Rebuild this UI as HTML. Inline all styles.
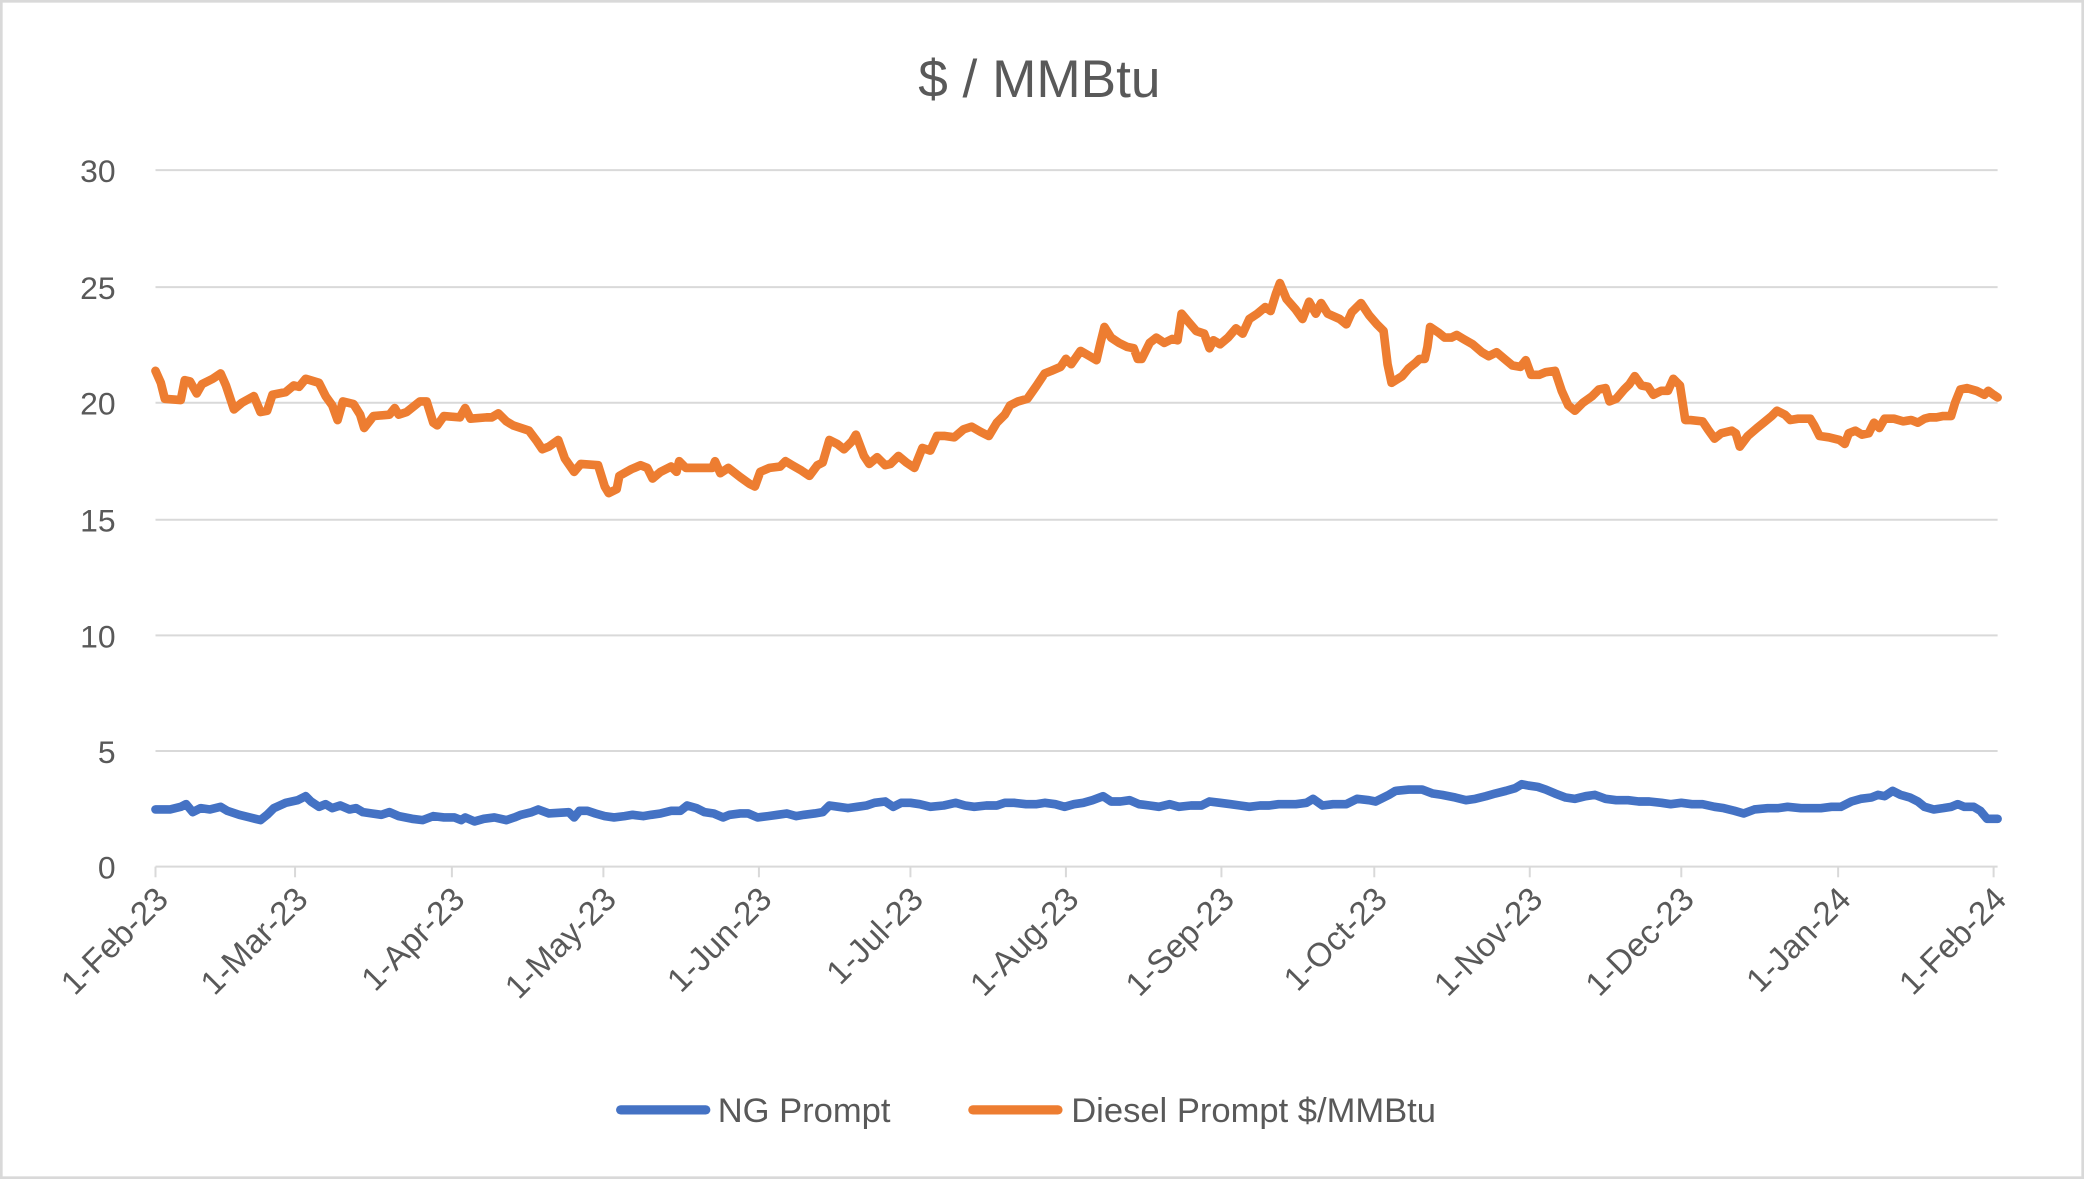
<!DOCTYPE html>
<html><head><meta charset="utf-8"><style>
html,body{margin:0;padding:0;background:#fff}
svg{display:block}
text{font-family:"Liberation Sans",sans-serif;fill:#595959}
</style></head><body>
<svg width="2084" height="1179" viewBox="0 0 1568 887" preserveAspectRatio="none" xmlns="http://www.w3.org/2000/svg">
<rect x="1" y="1" width="1566" height="885" fill="#fff" stroke="#d9d9d9" stroke-width="2"/>
<text x="782" y="73" font-size="40" text-anchor="middle">$ / MMBtu</text>
<g stroke="#d9d9d9" stroke-width="1.5">
<line x1="117" y1="128" x2="1503" y2="128"/>
<line x1="117" y1="216" x2="1503" y2="216"/>
<line x1="117" y1="303" x2="1503" y2="303"/>
<line x1="117" y1="391" x2="1503" y2="391"/>
<line x1="117" y1="478" x2="1503" y2="478"/>
<line x1="117" y1="565" x2="1503" y2="565"/>
<line x1="117" y1="652" x2="1503" y2="652"/>
<line x1="117" y1="652" x2="117" y2="660"/><line x1="222" y1="652" x2="222" y2="660"/><line x1="340" y1="652" x2="340" y2="660"/><line x1="454" y1="652" x2="454" y2="660"/><line x1="571" y1="652" x2="571" y2="660"/><line x1="685" y1="652" x2="685" y2="660"/><line x1="802" y1="652" x2="802" y2="660"/><line x1="919" y1="652" x2="919" y2="660"/><line x1="1034" y1="652" x2="1034" y2="660"/><line x1="1151" y1="652" x2="1151" y2="660"/><line x1="1265" y1="652" x2="1265" y2="660"/><line x1="1383" y1="652" x2="1383" y2="660"/><line x1="1500" y1="652" x2="1500" y2="660"/>
</g>
<g font-size="24" text-anchor="end">
<text x="87" y="137">30</text><text x="87" y="225">25</text><text x="87" y="312">20</text><text x="87" y="400">15</text><text x="87" y="487">10</text><text x="87" y="574">5</text><text x="87" y="661">0</text>
</g>
<g font-size="25" text-anchor="end">
<text transform="translate(128,678) rotate(-45)">1-Feb-23</text>
<text transform="translate(233,678) rotate(-45)">1-Mar-23</text>
<text transform="translate(351,678) rotate(-45)">1-Apr-23</text>
<text transform="translate(465,678) rotate(-45)">1-May-23</text>
<text transform="translate(582,678) rotate(-45)">1-Jun-23</text>
<text transform="translate(696,678) rotate(-45)">1-Jul-23</text>
<text transform="translate(813,678) rotate(-45)">1-Aug-23</text>
<text transform="translate(930,678) rotate(-45)">1-Sep-23</text>
<text transform="translate(1045,678) rotate(-45)">1-Oct-23</text>
<text transform="translate(1162,678) rotate(-45)">1-Nov-23</text>
<text transform="translate(1276,678) rotate(-45)">1-Dec-23</text>
<text transform="translate(1394,678) rotate(-45)">1-Jan-24</text>
<text transform="translate(1511,678) rotate(-45)">1-Feb-24</text>
</g>
<polyline fill="none" stroke="#ed7d31" stroke-width="6.5" stroke-linejoin="round" stroke-linecap="round" points="117,279 121,288 124,300 136,301 139,286 143,287 148,296 152,289 160,285 166,281 170,290 176,308 182,303 191,298 196,310 201,309 205,297 215,295 221,290 225,291 230,285 240,288 245,298 250,305 254,316 258,302 266,304 271,312 274,322 281,313 293,312 297,307 300,312 306,310 316,302 321,302 326,318 329,320 334,313 346,314 350,307 354,315 366,314 370,314 375,311 381,317 386,320 398,324 404,332 408,338 413,336 420,331 425,345 432,355 437,349 450,350 455,366 458,371 464,368 466,358 475,353 482,350 487,352 491,360 497,355 505,351 509,355 511,347 516,352 528,352 536,352 538,347 542,356 548,352 557,359 564,364 568,366 572,355 579,352 587,351 591,347 596,350 603,354 609,358 615,350 619,348 624,331 630,334 635,338 641,332 644,327 650,343 654,349 660,344 666,350 670,349 676,343 682,348 688,352 694,337 700,339 705,328 711,328 718,329 725,323 731,321 738,325 744,328 750,318 756,312 760,305 766,302 773,300 780,290 786,281 791,279 798,276 802,270 806,274 813,264 820,268 825,271 828,258 831,246 836,254 842,258 848,261 853,262 856,270 859,270 865,258 870,254 876,258 882,255 886,256 889,236 894,242 900,249 906,251 910,262 913,256 918,259 924,254 930,247 935,251 940,240 946,236 952,231 956,234 960,221 963,213 968,225 975,233 980,240 985,227 990,236 994,228 999,236 1008,240 1013,244 1017,235 1024,228 1030,237 1036,244 1041,249 1044,274 1047,288 1055,283 1060,277 1065,273 1068,270 1072,270 1074,261 1076,246 1082,250 1087,254 1092,254 1096,252 1101,255 1108,259 1115,265 1120,268 1126,265 1132,270 1138,275 1144,276 1148,271 1152,282 1158,282 1163,280 1170,279 1175,294 1180,305 1185,309 1191,303 1198,298 1203,293 1208,292 1211,302 1216,300 1222,293 1226,289 1230,283 1235,290 1240,291 1244,297 1250,294 1255,294 1259,285 1264,290 1268,316 1272,316 1281,317 1285,323 1290,330 1295,326 1303,324 1306,326 1309,336 1315,328 1322,322 1327,318 1333,313 1337,309 1343,312 1347,316 1353,315 1362,315 1365,320 1369,328 1376,329 1384,331 1388,334 1391,326 1396,324 1401,327 1406,326 1410,318 1414,322 1418,315 1425,315 1432,317 1438,316 1443,318 1448,315 1452,314 1457,314 1462,313 1468,313 1471,303 1475,293 1480,292 1487,294 1493,297 1496,294 1500,297 1503,299"/>
<polyline fill="none" stroke="#4472c4" stroke-width="6.5" stroke-linejoin="round" stroke-linecap="round" points="117,609 128,609 136,607 140,605 145,611 151,608 158,609 166,607 171,610 180,613 188,615 196,617 201,613 206,608 215,604 224,602 230,599 234,603 240,607 245,605 250,608 256,606 263,609 268,608 273,611 280,612 287,613 293,611 300,614 310,616 318,617 326,614 334,615 342,615 347,617 350,615 357,618 364,616 372,615 381,617 387,615 392,613 400,611 405,609 413,612 428,611 432,615 436,610 442,610 448,612 455,614 462,615 470,614 476,613 484,614 490,613 497,612 505,610 512,610 517,606 524,608 530,611 537,612 544,615 549,613 557,612 563,612 570,615 578,614 585,613 592,612 599,614 605,613 613,612 619,611 624,606 631,607 638,608 645,607 652,606 658,604 666,603 672,607 678,604 685,604 692,605 700,607 710,606 719,604 726,606 733,607 742,606 750,606 756,604 763,604 772,605 780,605 786,604 794,605 801,607 808,605 815,604 822,602 830,599 836,603 843,603 850,602 857,605 865,606 872,607 880,605 887,607 896,606 904,606 910,603 918,604 926,605 933,606 940,607 948,606 955,606 962,605 968,605 975,605 983,604 988,601 995,606 1003,605 1013,605 1021,601 1030,602 1035,603 1045,598 1050,595 1060,594 1070,594 1078,597 1085,598 1095,600 1103,602 1110,601 1118,599 1125,597 1133,595 1140,593 1145,590 1150,591 1157,592 1163,594 1170,597 1178,600 1185,601 1193,599 1200,598 1208,601 1216,602 1225,602 1233,603 1241,603 1250,604 1257,605 1265,604 1273,605 1281,605 1290,607 1297,608 1305,610 1312,612 1320,609 1330,608 1338,608 1345,607 1355,608 1362,608 1370,608 1378,607 1385,607 1393,603 1400,601 1408,600 1413,598 1418,599 1424,595 1430,598 1437,600 1443,603 1448,607 1455,609 1462,608 1468,607 1473,605 1478,607 1485,607 1490,610 1495,616 1503,616"/>
<line x1="467" y1="835" x2="531" y2="835" stroke="#4472c4" stroke-width="7" stroke-linecap="round"/>
<text x="540" y="844" font-size="26">NG Prompt</text>
<line x1="732" y1="835" x2="796" y2="835" stroke="#ed7d31" stroke-width="7" stroke-linecap="round"/>
<text x="806" y="844" font-size="26">Diesel Prompt $/MMBtu</text>
</svg>
</body></html>
